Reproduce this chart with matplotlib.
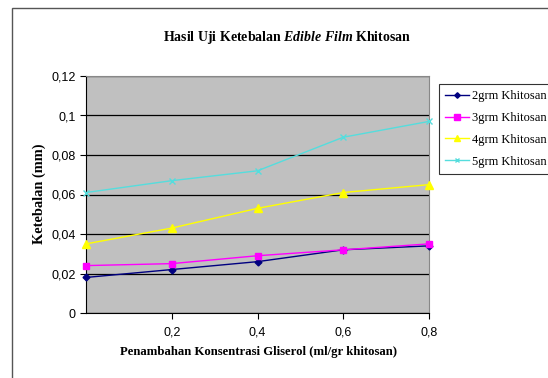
import matplotlib
matplotlib.use("Agg")
import matplotlib.pyplot as plt
from matplotlib.patches import Rectangle
from matplotlib.ticker import FuncFormatter

# glycerol concentration (ml/gr khitosan)
gliserol = [0.0, 0.2, 0.4, 0.6, 0.8]

khitosan_2grm = [0.018, 0.022, 0.026, 0.032, 0.034]
khitosan_3grm = [0.024, 0.025, 0.029, 0.032, 0.035]
khitosan_4grm = [0.035, 0.043, 0.053, 0.061, 0.065]
khitosan_5grm = [0.061, 0.067, 0.072, 0.089, 0.097]

series_labels = ["2grm Khitosan", "3grm Khitosan", "4grm Khitosan", "5grm Khitosan"]
x_ticks = [0.2, 0.4, 0.6, 0.8]
y_ticks = [0, 0.02, 0.04, 0.06, 0.08, 0.1, 0.12]

plt.rcParams["mathtext.fontset"] = "custom"
plt.rcParams["mathtext.it"] = "Liberation Serif:italic:bold"
plt.rcParams["mathtext.rm"] = "Liberation Serif:bold"

W, H = 548, 378
fig = plt.figure(figsize=(W / 100, H / 100), dpi=100)
fig.patches.append(Rectangle((12 / W, -0.1), 1.2, 1.1 - 8 / H, transform=fig.transFigure,
                             fill=False, edgecolor="#555555", linewidth=1.0))

ax = fig.add_axes([86 / W, 1 - 313 / H, (429 - 86) / W, (313 - 76) / H])
ax.set_facecolor("#C0C0C0")

styles = [
    dict(color="#000080", marker="D", markersize=3.5),
    dict(color="#FF00FF", marker="s", markersize=5),
    dict(color="#FFFF00", marker="^", markersize=5.5),
    dict(color="#55DDDD", marker="x", markersize=4, markeredgewidth=1),
]
for ys, label, st in zip([khitosan_2grm, khitosan_3grm, khitosan_4grm, khitosan_5grm],
                         series_labels, styles):
    ax.plot(gliserol, ys, label=label, linewidth=1.0, clip_on=False, zorder=3, **st)

ax.set_xlim(0, 0.8)
ax.set_ylim(0, 0.12)
ax.set_xticks(x_ticks)
ax.set_yticks(y_ticks)
comma = FuncFormatter(lambda v, p: ("%g" % v).replace(".", ","))
ax.xaxis.set_major_formatter(comma)
ax.yaxis.set_major_formatter(comma)
ax.grid(axis="y", color="black", linewidth=0.9)
ax.set_axisbelow(True)
ax.tick_params(direction="out", length=4, width=0.8, labelsize=9, colors="black")
for lbl in ax.get_xticklabels() + ax.get_yticklabels():
    lbl.set_fontfamily("Liberation Sans")
ax.tick_params(axis="x", pad=6)
for side in ["top", "right"]:
    ax.spines[side].set_color("#888888")
for side in ["left", "bottom"]:
    ax.spines[side].set_color("black")

serif = "Liberation Serif"
fig.text(287 / W, 1 - 38 / H, r"Hasil Uji Ketebalan $\mathit{Edible\ Film}$ Khitosan",
         ha="center", va="center", fontsize=10, fontfamily=serif, fontweight="bold")
fig.text(258 / W, 1 - 352 / H, "Penambahan Konsentrasi Gliserol (ml/gr khitosan)",
         ha="center", va="center", fontsize=9.2, fontfamily=serif, fontweight="bold")
fig.text(39 / W, 1 - 194 / H, "Ketebalan (mm)", rotation=90,
         ha="center", va="center", fontsize=10.4, fontfamily=serif, fontweight="bold")

leg = ax.legend(loc="upper left", bbox_to_anchor=(439 / W, 1 - 84 / H),
                bbox_transform=fig.transFigure, frameon=True, fancybox=False,
                prop={"family": serif, "size": 9.0}, handlelength=1.9,
                borderpad=0.5, borderaxespad=0, labelspacing=0.78, handletextpad=0.2,
                markerscale=0.8)
leg.get_frame().set_edgecolor("black")
leg.get_frame().set_linewidth(0.8)

fig.savefig("out.png", dpi=100)
